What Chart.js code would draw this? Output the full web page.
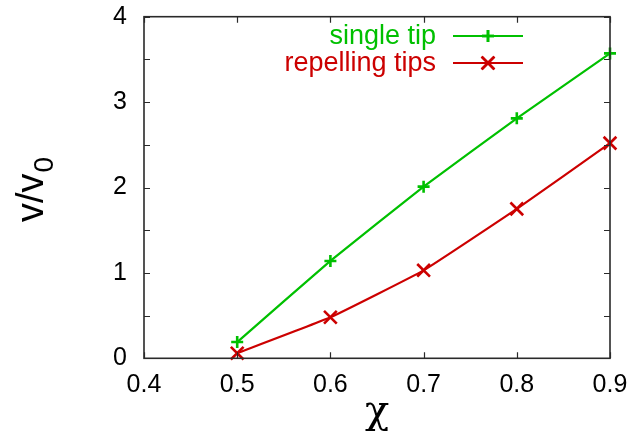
<!DOCTYPE html>
<html>
<head>
<meta charset="utf-8">
<script src="https://cdn.jsdelivr.net/npm/chart.js@4/dist/chart.umd.min.js"></script>
<style>
  html, body { margin: 0; padding: 0; background: #fff; }
  #wrap { width: 633px; height: 432px; }
</style>
</head>
<body>
<div id="wrap"><canvas id="c" width="633" height="432"></canvas></div>
<script>
// chi values and measured front speeds
const chi = [0.5, 0.6, 0.7, 0.8, 0.9];
const singleTip = [0.19, 1.14, 2.01, 2.81, 3.57];
const repellingTips = [0.06, 0.48, 1.03, 1.75, 2.52];
const xTicks = [0.4, 0.5, 0.6, 0.7, 0.8, 0.9];
const yTicks = [0, 1, 2, 3, 4];

const GREEN = '#00c000';
const RED = '#cc0000';
const FONT = 'Liberation Sans, Arial, Helvetica, sans-serif';

// frame, inward tick marks on all four sides, legend, y title with subscript
const framePlugin = {
  id: 'frame',
  afterDraw(chart) {
    const { ctx, chartArea: a, scales } = chart;
    ctx.save();
    ctx.strokeStyle = '#2a2a2a';
    ctx.lineWidth = 1.6;
    ctx.strokeRect(a.left, a.top, a.right - a.left, a.bottom - a.top);
    ctx.lineWidth = 1.2;
    const tl = 6;
    ctx.beginPath();
    for (const v of xTicks) {
      const x = Math.round(scales.x.getPixelForValue(v)) + 0.5;
      ctx.moveTo(x, a.bottom); ctx.lineTo(x, a.bottom - tl);
      ctx.moveTo(x, a.top); ctx.lineTo(x, a.top + tl);
    }
    for (let v = 0; v <= 4; v += 0.5) {
      const y = Math.round(scales.y.getPixelForValue(v)) + 0.5;
      ctx.moveTo(a.left, y); ctx.lineTo(a.left + tl, y);
      ctx.moveTo(a.right, y); ctx.lineTo(a.right - tl, y);
    }
    ctx.stroke();

    // legend: text right-aligned, then a line sample with its marker
    const rows = [36, 63];
    chart.data.datasets.forEach((ds, i) => {
      const y = rows[i];
      ctx.fillStyle = ds.borderColor;
      ctx.font = '27px ' + FONT;
      ctx.textAlign = 'right';
      ctx.textBaseline = 'middle';
      ctx.fillText(ds.label, 436, y + 1);
      ctx.strokeStyle = ds.borderColor;
      ctx.lineWidth = 2.2;
      ctx.beginPath();
      ctx.moveTo(453, y); ctx.lineTo(523, y);
      ctx.stroke();
      ctx.lineWidth = ds.pointBorderWidth;
      Chart.helpers.drawPoint(ctx, { pointStyle: ds.pointStyle, radius: ds.pointRadius, rotation: 0, borderWidth: ds.pointBorderWidth }, 488, y);
      ctx.stroke();
    });

    // y axis title: v/v with subscript 0, rotated
    ctx.save();
    ctx.translate(43, 222);
    ctx.rotate(-Math.PI / 2);
    ctx.fillStyle = '#000';
    ctx.textAlign = 'left';
    ctx.textBaseline = 'alphabetic';
    ctx.font = '38px ' + FONT;
    ctx.fillText('v/v', 0, 0);
    const w = ctx.measureText('v/v').width;
    ctx.font = '28px ' + FONT;
    ctx.fillText('0', w + 1, 10);
    ctx.restore();
    ctx.restore();
  }
};

const toPoints = ys => chi.map((x, i) => ({ x, y: ys[i] }));

new Chart(document.getElementById('c'), {
  type: 'line',
  data: {
    datasets: [
      {
        label: 'single tip',
        data: toPoints(singleTip),
        borderColor: GREEN,
        backgroundColor: GREEN,
        borderWidth: 2.2,
        pointStyle: 'cross',
        pointRadius: 6,
        pointBorderWidth: 2.6,
        pointBorderColor: GREEN,
        tension: 0.1,
        clip: false
      },
      {
        label: 'repelling tips',
        data: toPoints(repellingTips),
        borderColor: RED,
        backgroundColor: RED,
        borderWidth: 2.2,
        pointStyle: 'crossRot',
        pointRadius: 9,
        pointBorderWidth: 2.6,
        pointBorderColor: RED,
        tension: 0.1,
        clip: false
      }
    ]
  },
  options: {
    responsive: false,
    animation: false,
    devicePixelRatio: 1,
    layout: { padding: { left: 0, top: 16.7, right: 23, bottom: 0 } },
    plugins: { legend: { display: false }, tooltip: { enabled: false } },
    elements: { point: { hoverRadius: 0 } },
    scales: {
      x: {
        type: 'linear',
        min: 0.4, max: 0.9,
        grid: { display: false, drawTicks: false },
        border: { display: false },
        afterBuildTicks: s => { s.ticks = xTicks.map(v => ({ value: v })); },
        afterFit: s => { s.height = 73.7; s.paddingLeft = 0; s.paddingRight = 0; },
        ticks: {
          color: '#000',
          font: { family: FONT, size: 25 },
          padding: 12,
          maxRotation: 0,
          autoSkip: false,
          callback: v => v.toFixed(1)
        },
        title: {
          display: true,
          text: 'χ',
          color: '#000',
          font: { family: 'DejaVu Serif, serif', size: 40 },
          padding: { top: 0, bottom: -5 }
        }
      },
      y: {
        type: 'linear',
        min: 0, max: 4,
        grid: { display: false, drawTicks: false },
        border: { display: false },
        afterBuildTicks: s => { s.ticks = yTicks.map(v => ({ value: v })); },
        afterFit: s => { s.width = 144; s.paddingTop = 0; s.paddingBottom = 0; },
        ticks: {
          color: '#000',
          font: { family: FONT, size: 25 },
          padding: 17,
          callback: v => String(v)
        }
      }
    }
  },
  plugins: [framePlugin]
});
</script>
</body>
</html>
